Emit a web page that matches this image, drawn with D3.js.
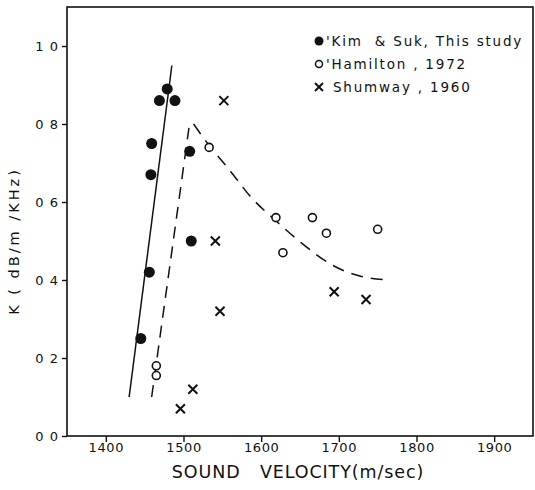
<!DOCTYPE html>
<html>
<head>
<meta charset="utf-8">
<script src="https://cdn.jsdelivr.net/npm/d3@7"></script>
<style>
  html, body { margin: 0; padding: 0; background: #fff; }
  svg { display: block; }
  text { font-family: "DejaVu Sans", sans-serif; fill: #111; white-space: pre; }
</style>
</head>
<body>
<svg id="chart" width="535" height="490"></svg>
<script>
// Kim & Suk, this study (filled circles)
const kimVel = [1445, 1456, 1458, 1459, 1469, 1479, 1489, 1508, 1510];
const kimK   = [0.25, 0.42, 0.67, 0.75, 0.86, 0.89, 0.86, 0.73, 0.50];
// Hamilton, 1972 (open circles)
const hamVel = [1465, 1465, 1533, 1619, 1628, 1666, 1684, 1750];
const hamK   = [0.18, 0.155, 0.74, 0.56, 0.47, 0.56, 0.52, 0.53];
// Shumway, 1960 (crosses)
const shuVel = [1496, 1512, 1541, 1547, 1552, 1694, 1735];
const shuK   = [0.07, 0.12, 0.50, 0.32, 0.86, 0.37, 0.35];

// Solid trend line through this study's data
const fitVel = [1430, 1485];
const fitK   = [0.10, 0.95];
// Dashed trend: rising branch and decaying branch
const dashUpVel = [1459, 1507];
const dashUpK   = [0.10, 0.79];
const dashDnVel = [1513, 1533, 1556, 1588, 1620, 1655, 1690, 1727, 1765];
const dashDnK   = [0.80, 0.745, 0.69, 0.61, 0.55, 0.49, 0.44, 0.41, 0.40];

const xTicks = [1400, 1500, 1600, 1700, 1800, 1900];
const yTicks = [0, 0.2, 0.4, 0.6, 0.8, 1.0];
const yTickLabels = ["0 0", "0 2", "0 4", "0 6", "0 8", "1 0"];

const legendLabels = ["'Kim  & Suk, This study", "'Hamilton , 1972", "Shumway , 1960"];
const xTitle = "SOUND   VELOCITY(m/sec)";
const yTitle = "K ( dB/m /KHz)";

const svg = d3.select("#chart");
const L = 67, R = 533, T = 7, B = 436;

const x = d3.scaleLinear().domain([1350, 1950]).range([L, R]);
const y = d3.scaleLinear().domain([0, 1.1]).range([B, T]);

// Frame
svg.append("rect")
  .attr("x", L).attr("y", T).attr("width", R - L).attr("height", B - T)
  .attr("fill", "none").attr("stroke", "#111").attr("stroke-width", 1.6);

// Bottom axis
const xAxis = svg.append("g").attr("transform", `translate(0,${B})`)
  .call(d3.axisBottom(x).tickValues(xTicks).tickSize(6).tickSizeOuter(0).tickFormat(d3.format("d")));
xAxis.select(".domain").remove();
xAxis.selectAll("line").attr("stroke", "#111").attr("stroke-width", 1.4);
xAxis.selectAll("text").attr("font-size", 13).attr("y", 7).attr("dy", "0.71em").attr("letter-spacing", 0.6)
  .style("font-family", "'DejaVu Sans', sans-serif").attr("fill", "#111");

// Left axis
const yAxis = svg.append("g").attr("transform", `translate(${L},0)`)
  .call(d3.axisLeft(y).tickValues(yTicks).tickSize(5).tickSizeOuter(0)
    .tickFormat((d, i) => yTickLabels[i]));
yAxis.select(".domain").remove();
yAxis.selectAll("line").attr("stroke", "#111").attr("stroke-width", 1.4);
yAxis.selectAll("text").attr("font-size", 13).attr("x", -8).attr("letter-spacing", 1)
  .style("font-family", "'DejaVu Sans', sans-serif").attr("fill", "#111");

// Axis titles
svg.append("text").attr("x", 298).attr("y", 478).attr("text-anchor", "middle")
  .attr("font-size", 17.5).attr("letter-spacing", 0.9).text(xTitle);
svg.append("text").attr("transform", "translate(19,241) rotate(-90)")
  .attr("text-anchor", "middle").attr("font-size", 14.5).attr("letter-spacing", 3).text(yTitle);

const line = d3.line().x(d => x(d[0])).y(d => y(d[1]));

// Solid trend line
svg.append("path").datum(d3.zip(fitVel, fitK)).attr("d", line)
  .attr("fill", "none").attr("stroke", "#111").attr("stroke-width", 1.5);

// Dashed trend
svg.append("path").datum(d3.zip(dashUpVel, dashUpK)).attr("d", line)
  .attr("fill", "none").attr("stroke", "#111").attr("stroke-width", 1.5)
  .attr("stroke-dasharray", "12,8");
svg.append("path").datum(d3.zip(dashDnVel, dashDnK))
  .attr("d", d3.line().x(d => x(d[0])).y(d => y(d[1])).curve(d3.curveMonotoneX))
  .attr("fill", "none").attr("stroke", "#111").attr("stroke-width", 1.5)
  .attr("stroke-dasharray", "12,8");

// Markers
svg.append("g").selectAll("circle").data(d3.zip(kimVel, kimK)).join("circle")
  .attr("cx", d => x(d[0])).attr("cy", d => y(d[1])).attr("r", 5.5).attr("fill", "#111");

svg.append("g").selectAll("circle").data(d3.zip(hamVel, hamK)).join("circle")
  .attr("cx", d => x(d[0])).attr("cy", d => y(d[1])).attr("r", 4)
  .attr("fill", "#fff").attr("stroke", "#111").attr("stroke-width", 1.6);

const cross = (g, s) => g.append("path")
  .attr("d", `M${-s},${-s}L${s},${s}M${s},${-s}L${-s},${s}`)
  .attr("stroke", "#111").attr("stroke-width", 2).attr("fill", "none");
svg.append("g").selectAll("g").data(d3.zip(shuVel, shuK)).join("g")
  .attr("transform", d => `translate(${x(d[0])},${y(d[1])})`)
  .each(function () { cross(d3.select(this), 4.5); });

// Legend
const legY = [41, 64, 87];
const lg = svg.append("g");
lg.append("circle").attr("cx", 319).attr("cy", legY[0]).attr("r", 4.5).attr("fill", "#111");
lg.append("circle").attr("cx", 319).attr("cy", legY[1]).attr("r", 3.5)
  .attr("fill", "#fff").attr("stroke", "#111").attr("stroke-width", 1.5);
cross(lg.append("g").attr("transform", `translate(319,${legY[2]})`), 4);
lg.selectAll("text.leg").data(legendLabels).join("text").attr("class", "leg")
  .attr("x", (d, i) => i === 2 ? 333 : 326).attr("y", (d, i) => legY[i] + 5)
  .attr("font-size", 13.5).attr("letter-spacing", 1.8).text(d => d);
</script>
</body>
</html>
